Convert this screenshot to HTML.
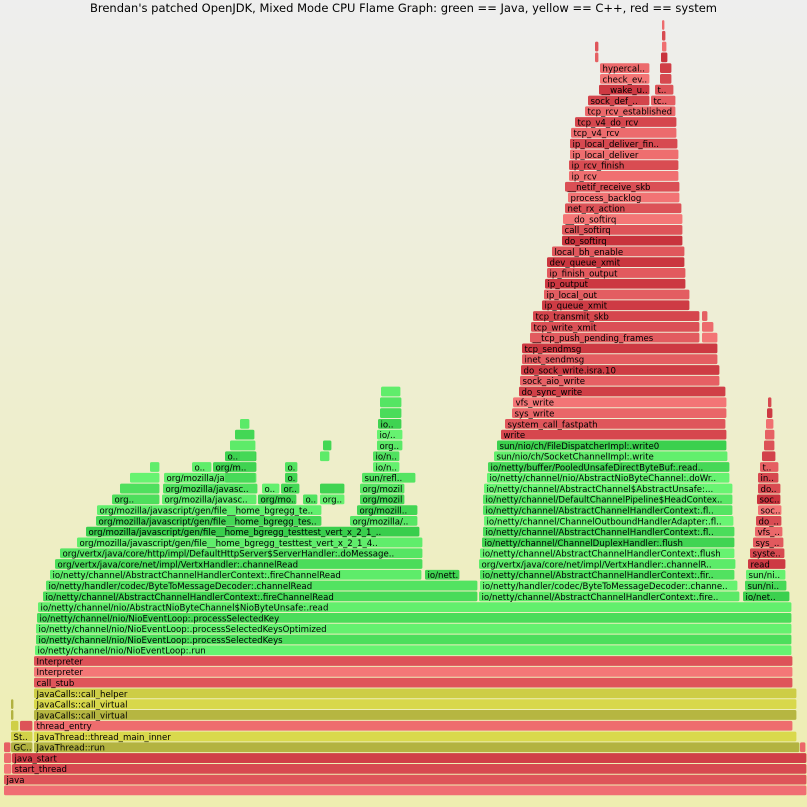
<!DOCTYPE html>
<html><head><meta charset="utf-8">
<style>
html,body{margin:0;padding:0;}
body{width:807px;height:807px;overflow:hidden;background:linear-gradient(#eeeeee,#eeeeb0);font-family:"DejaVu Sans","Liberation Sans",sans-serif;}
#title{position:absolute;left:0;top:1px;width:807px;text-align:center;font-size:11.5px;color:#000;}
svg{position:absolute;left:0;top:0;}
</style></head>
<body>
<div id="title">Brendan's patched OpenJDK, Mixed Mode CPU Flame Graph: green == Java, yellow == C++, red == system</div>
<svg id="fg" width="807" height="807"></svg>
<script>
const ROW_H = 10.78, BASE_TOP = 785.5;
// [row, start, end, type, label]
const frameList = [
[0,4,807,'p',''],
[1,4,807,'r','java'],
[2,4,12,'r',''],[2,12,807,'r','start_thread'],
[3,4,12,'r',''],[3,12,807,'r','java_start'],
[4,4,11,'r',''],[4,11,33,'o','GC..'],[4,34,800,'o','JavaThread::run'],[4,800,806,'r',''],
[5,11,33,'y','St..'],[5,34,797,'y','JavaThread::thread_main_inner'],
[6,11,19,'y',''],[6,20,33,'r',''],[6,34,793,'r','thread_entry'],
[7,11,14,'o',''],[7,34,797,'o','JavaCalls::call_virtual'],
[8,11,14,'o',''],[8,34,797,'y','JavaCalls::call_virtual'],
[9,34,797,'y','JavaCalls::call_helper'],
[10,34,793,'r','call_stub'],
[11,34,793,'r','Interpreter'],
[12,34,793,'r','Interpreter'],
[13,35,792,'g','io/netty/channel/nio/NioEventLoop:.run'],
[14,36,792,'g','io/netty/channel/nio/NioEventLoop:.processSelectedKeys'],
[15,36,792,'g','io/netty/channel/nio/NioEventLoop:.processSelectedKeysOptimized'],
[16,37,792,'g','io/netty/channel/nio/NioEventLoop:.processSelectedKey'],
[17,38,792,'g','io/netty/channel/nio/AbstractNioByteChannel$NioByteUnsafe:.read'],
[18,43,478,'g','io/netty/channel/AbstractChannelHandlerContext:.fireChannelRead'],[18,479,740,'g','io/netty/channel/AbstractChannelHandlerContext:.fire..'],[18,743,790,'g','io/net..'],
[19,46,478,'g','io/netty/handler/codec/ByteToMessageDecoder:.channelRead'],[19,480,738,'g','io/netty/handler/codec/ByteToMessageDecoder:.channe..'],[19,745,787,'g','sun/ni..'],
[20,50,422,'g','io/netty/channel/AbstractChannelHandlerContext:.fireChannelRead'],[20,425,460,'g','io/nett..'],[20,480,735,'g','io/netty/channel/AbstractChannelHandlerContext:.fir..'],[20,746,786,'g','sun/ni..'],
[21,55,423,'g','org/vertx/java/core/net/impl/VertxHandler:.channelRead'],[21,479,736,'g','org/vertx/java/core/net/impl/VertxHandler:.channelR..'],[21,748,786,'r','read'],
[22,60,423,'g','org/vertx/java/core/http/impl/DefaultHttpServer$ServerHandler:.doMessage..'],[22,480,735,'g','io/netty/channel/AbstractChannelHandlerContext:.flush'],[22,750,785,'r','syste..'],
[23,77,423,'g','org/mozilla/javascript/gen/file__home_bgregg_testtest_vert_x_2_1_4..'],[23,482,735,'g','io/netty/channel/ChannelDuplexHandler:.flush'],[23,753,784,'r','sys_..'],
[24,86,420,'g','org/mozilla/javascript/gen/file__home_bgregg_testtest_vert_x_2_1_..'],[24,483,735,'g','io/netty/channel/AbstractChannelHandlerContext:.fl..'],[24,755,783,'r','vfs_..'],
[25,96,322,'g','org/mozilla/javascript/gen/file__home_bgregg_tes..'],[25,350,418,'g','org/mozilla/..'],[25,484,734,'g','io/netty/channel/ChannelOutboundHandlerAdapter:.fl..'],[25,756,782,'r','do_..'],
[26,97,322,'g','org/mozilla/javascript/gen/file__home_bgregg_te..'],[26,357,418,'g','org/mozill..'],[26,483,733,'g','io/netty/channel/AbstractChannelHandlerContext:.fl..'],[26,758,782,'r','soc..'],
[27,112,160,'g','org..'],[27,162,257,'g','org/mozilla/javasc..'],[27,258,297,'g','org/mo..'],[27,303,318,'g','o..'],[27,320,345,'g','org..'],[27,360,405,'g','org/mozil..'],[27,483,733,'g','io/netty/channel/DefaultChannelPipeline$HeadContex..'],[27,757,781,'r','soc..'],
[28,163,258,'g','org/mozilla/javasc..'],[28,262,280,'g','o..'],[28,281,300,'g','or..'],[28,360,405,'g','org/mozil..'],[28,484,733,'g','io/netty/channel/AbstractChannel$AbstractUnsafe:...'],[28,758,781,'r','do..'],
[29,164,257,'g','org/mozilla/javas..'],[29,285,298,'g','o..'],[29,362,416,'g','sun/refl..'],[29,487,730,'g','io/netty/channel/nio/AbstractNioByteChannel:.doWr..'],[29,758,779,'r','in..'],
[30,192,212,'g','o..'],[30,213,257,'g','org/m..'],[30,285,298,'g','o..'],[30,373,400,'g','io/n..'],[30,488,730,'g','io/netty/buffer/PooledUnsafeDirectByteBuf:.read..'],[30,760,779,'r','t..'],
[31,225,257,'g','o..'],[31,373,400,'g','io/n..'],[31,494,728,'g','sun/nio/ch/SocketChannelImpl:.write'],[31,762,776,'r',''],
[32,377,403,'g','org..'],[32,497,727,'g','sun/nio/ch/FileDispatcherImpl:.write0'],[32,764,775,'r',''],
[33,377,403,'g','io/..'],[33,501,727,'r','write'],[33,765,775,'r',''],
[34,378,402,'g','io..'],[34,505,726,'r','system_call_fastpath'],[34,766,774,'r',''],
[35,380,402,'g',''],[35,512,727,'r','sys_write'],[35,767,773,'r',''],
[36,380,402,'g',''],[36,513,727,'r','vfs_write'],[36,768,772,'r',''],
[37,381,401,'g',''],[37,519,726,'r','do_sync_write'],
[38,520,720,'r','sock_aio_write'],
[39,521,720,'r','do_sock_write.isra.10'],
[40,522,718,'r','inet_sendmsg'],
[41,522,718,'r','tcp_sendmsg'],
[42,530,700,'r','__tcp_push_pending_frames'],[42,702,718,'r',''],
[43,531,700,'r','tcp_write_xmit'],[43,702,714,'r',''],
[44,533,700,'r','tcp_transmit_skb'],[44,702,708,'r',''],
[45,542,690,'r','ip_queue_xmit'],
[46,544,690,'r','ip_local_out'],
[47,545,686,'r','ip_output'],
[48,547,686,'r','ip_finish_output'],
[49,547,685,'r','dev_queue_xmit'],
[50,552,685,'r','local_bh_enable'],
[51,562,683,'r','do_softirq'],
[52,562,683,'r','call_softirq'],
[53,563,683,'r','__do_softirq'],
[54,565,682,'r','net_rx_action'],
[55,568,680,'r','process_backlog'],
[56,565,680,'r','__netif_receive_skb'],
[57,569,679,'r','ip_rcv'],
[58,569,679,'r','ip_rcv_finish'],
[59,570,679,'r','ip_local_deliver'],
[60,570,678,'r','ip_local_deliver_fin..'],
[61,571,677,'r','tcp_v4_rcv'],
[62,575,677,'r','tcp_v4_do_rcv'],
[63,585,676,'r','tcp_rcv_established'],
[64,588,650,'r','sock_def_..'],[64,651,676,'r','tc..'],
[65,599,650,'r','__wake_u..'],[65,655,674,'r','t..'],
[66,600,650,'r','check_ev..'],[66,660,672,'r',''],
[67,600,650,'r','hypercal..'],[67,660,672,'r',''],
[68,595,599,'r',''],[68,661,668,'r',''],
[69,595,599,'r',''],[69,662,667,'r',''],
[70,662,666,'r',''],[71,662,665,'r',''],
// left tower fringe (unlabeled)
[28,120,160,'g',''],[29,130,160,'g',''],[29,225,256,'g',''],
[30,150,160,'g',''],[31,240,256,'g',''],[32,230,256,'g',''],[33,235,255,'g',''],
[34,240,250,'g',''],[31,320,330,'g',''],[32,323,332,'g',''],[28,320,345,'g','']
];
const frameRows = frameList.map(f=>f[0]);
const frameStart = frameList.map(f=>f[1]);
const frameEnd = frameList.map(f=>f[2]);
const frameType = frameList.map(f=>f[3]);
const frameLabel = frameList.map(f=>f[4]);

const svg = document.getElementById('fg');
const NS = 'http://www.w3.org/2000/svg';
function rowY(r){ return BASE_TOP - r*ROW_H; }
function shade(t, k){
  const f = (k*37 % 100)/100;
  if(t==='p') return 'rgb(240,110,115)';
  if(t==='g') return 'rgb('+Math.round(55+f*50)+','+Math.round(205+f*40)+','+Math.round(75+f*40)+')';
  if(t==='y') return 'rgb('+Math.round(205+f*20)+','+Math.round(205+f*20)+','+Math.round(70+f*10)+')';
  if(t==='o') return 'rgb('+Math.round(175+f*10)+','+Math.round(175+f*10)+','+Math.round(65)+')';
  return 'rgb('+Math.round(200+f*45)+','+Math.round(50+f*70)+','+Math.round(60+f*60)+')';
}
for(let i=0;i<frameRows.length;i++){
  const x0=frameStart[i], x1=frameEnd[i];
  if(x1-x0<=0) continue;
  const y=rowY(frameRows[i]);
  const g=document.createElementNS(NS,'g');
  
  
  const rect=document.createElementNS(NS,'rect');
  rect.setAttribute('x',x0);rect.setAttribute('y',y);
  rect.setAttribute('width',Math.max(1,x1-x0-0.6));rect.setAttribute('height',ROW_H-1);
  rect.setAttribute('rx',1.5);
  rect.setAttribute('fill',shade(frameType[i],i+frameRows[i]*3));
  g.appendChild(rect);
  if(frameLabel[i]){
    const cp=document.createElementNS(NS,'clipPath');
    cp.setAttribute('id','c'+i);
    const cr=document.createElementNS(NS,'rect');
    cr.setAttribute('x',x0);cr.setAttribute('y',y);cr.setAttribute('width',Math.max(0,x1-x0-2));cr.setAttribute('height',ROW_H);
    cp.appendChild(cr);g.appendChild(cp);
    const tx=document.createElementNS(NS,'text');
    
    
    tx.setAttribute('x',x0+2.5);tx.setAttribute('y',y+8.3);
    tx.setAttribute('font-size','8.6');tx.setAttribute('fill','#000');
    tx.setAttribute('font-family','DejaVu Sans, Liberation Sans, sans-serif');
    tx.setAttribute('clip-path','url(#c'+i+')');
    tx.textContent=frameLabel[i];
    g.appendChild(tx);
  }
  svg.appendChild(g);
}
</script>
</body></html>
